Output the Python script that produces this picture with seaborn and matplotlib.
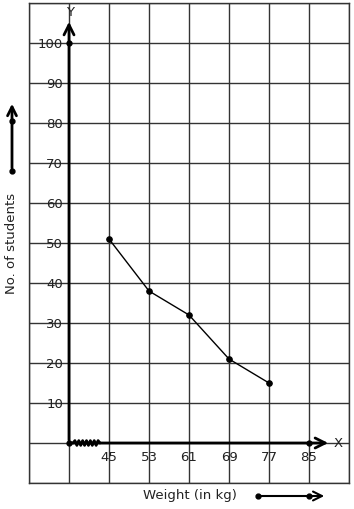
import matplotlib
matplotlib.use("Agg")
import matplotlib.pyplot as plt
import numpy as np
import pandas as pd
import seaborn as sns

# data
weights = [45, 53, 61, 69, 77]
students = [51, 38, 32, 21, 15]
x_tick_labels = [45, 53, 61, 69, 77, 85]
y_tick_labels = [10, 20, 30, 40, 50, 60, 70, 80, 90, 100]

df = pd.DataFrame({"weight": weights, "students": students})

sns.set_style("white")
plt.rcParams["font.family"] = ["DejaVu Sans"]

W, H = 354, 510
fig = plt.figure(figsize=(W / 100, H / 100), dpi=100)
ax = fig.add_axes([29 / W, 26 / H, 320 / W, 480 / H])

x0 = 37  # origin of the broken x axis
ax.set_xlim(29, 93)
ax.set_ylim(-10, 110)
ax.set_xticks(np.arange(29, 94, 8))
ax.set_yticks(np.arange(-10, 111, 10))
ax.grid(True, color="#333333", linewidth=1)
ax.tick_params(length=0, labelbottom=False, labelleft=False)
for s in ax.spines.values():
    s.set_color("#333333")
    s.set_linewidth(1)

# axes with arrows
ax.annotate("", xy=(x0, 106), xytext=(x0, 0),
            arrowprops=dict(arrowstyle="->", lw=2, color="black", mutation_scale=18))
ax.annotate("", xy=(89.4, 0), xytext=(x0, 0),
            arrowprops=dict(arrowstyle="->", lw=2, color="black", mutation_scale=18))
ax.text(x0 + 0.3, 108, "Y", ha="center", va="center", fontsize=9.5, color="#222222")
ax.text(90.9, 0.2, "X", ha="center", va="center", fontsize=9.5, color="#222222")
ax.plot([x0, x0, 85], [0, 100, 0], "o", color="black", markersize=3.5)

# zigzag break mark near the origin
zx = np.linspace(x0 + 0.8, x0 + 6.2, 15)
zy = np.array([0, 1, -1, 1, -1, 1, -1, 1, -1, 1, -1, 1, -1, 1, 0]) * 0.6
ax.plot(zx, zy, color="black", lw=2)

# tick labels
for v in y_tick_labels:
    ax.text(x0 - 1.2, v, str(v), ha="right", va="center", fontsize=9.5, color="#222222")
for v in x_tick_labels:
    ax.text(v, -3.3, str(v), ha="center", va="center", fontsize=9.5, color="#222222")

# data line
sns.lineplot(data=df, x="weight", y="students", ax=ax, color="black",
             linewidth=1, marker="o", markersize=4, markeredgecolor="black")
ax.set_xlabel("")
ax.set_ylabel("")

# outer axis titles with direction arrows
fig.text(12 / W, 1 - 243 / H, "No. of students", rotation=90, ha="center", va="center",
         fontsize=9.5, color="#222222")
fig.text(190 / W, 1 - 496 / H, "Weight (in kg)", ha="center", va="center",
         fontsize=9.5, color="#222222")
fig.add_artist(matplotlib.patches.FancyArrowPatch(
    (12 / W, 1 - 172 / H), (12 / W, 1 - 102 / H), transform=fig.transFigure,
    arrowstyle="->", lw=2, color="black", mutation_scale=16))
fig.add_artist(matplotlib.patches.FancyArrowPatch(
    (258 / W, 1 - 497 / H), (327 / W, 1 - 497 / H), transform=fig.transFigure,
    arrowstyle="->", lw=1.5, color="black", mutation_scale=16))
fig.add_artist(matplotlib.lines.Line2D([12 / W, 12 / W], [1 - 172 / H, 1 - 122 / H],
                                       transform=fig.transFigure, marker="o",
                                       markersize=3.5, lw=0, color="black"))
fig.add_artist(matplotlib.lines.Line2D([258 / W, 309 / W], [1 - 497 / H, 1 - 497 / H],
                                       transform=fig.transFigure, marker="o",
                                       markersize=3.5, lw=0, color="black"))

fig.savefig("out.png", dpi=100, facecolor="white")
